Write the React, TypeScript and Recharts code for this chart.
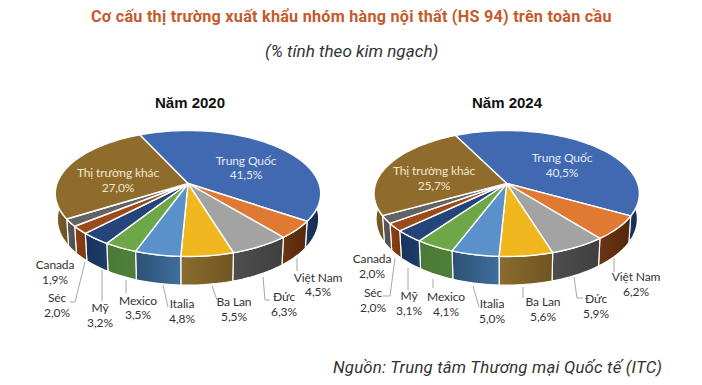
import React from "react";
import { PieChart, Pie } from "recharts";

const CATEGORIES = ["Trung Quốc", "Việt Nam", "Đức", "Ba Lan", "Italia", "Mexico", "Mỹ", "Séc", "Canada", "Thị trường khác"];
const VALUES_2020 = [41.5, 4.5, 6.3, 5.5, 4.8, 3.5, 3.2, 2.0, 1.9, 27.0];
const VALUES_2024 = [40.5, 6.2, 5.9, 5.6, 5.0, 4.1, 3.1, 2.0, 2.0, 25.7];
const TOP_COLORS = ["#4069B1", "#E07A33", "#A3A3A3", "#F1B71E", "#5A91CB", "#6EA747", "#254479", "#9C4A17", "#636363", "#8F6C2B"];
const WALL_LEFT = ["#1B3763", "#6B3512", "#4E4E4E", "#8C6C2E", "#2C5174", "#4A7A36", "#17335C", "#8A4116", "#5A5A5A", "#7C5E26"];
const WALL_RIGHT = ["#16294D", "#54280C", "#3F3F3F", "#6F5522", "#3F6E9E", "#4F8039", "#1F3D6B", "#7A3710", "#4E4E4E", "#6B5120"];

// label layout: [x, y of line 1, y of line 2]
const LABELS_2020 = [[246, 165, 179], [318, 282, 296], [284, 301, 316], [234, 306, 321], [182, 308, 323], [138, 305, 319], [100, 312, 327], [57, 302, 317], [55, 269, 284], [118, 177, 192]];
const LABELS_2024 = [[562, 162, 177], [636, 281, 296], [596, 303, 318], [543, 306, 321], [492, 308, 323], [446, 301, 316], [409, 300, 315], [373, 297, 312], [372, 263, 278], [434, 175, 190]];
const LINES_2020: number[][][] = [[], [[297, 258], [297, 271]], [[263, 277], [265, 300], [270, 300]], [[212, 286], [217, 300]], [[163, 285], [168, 307]], [[126, 280], [126, 293]], [[102, 270], [102, 301]], [[85, 262], [75, 302], [70, 302]], [], []];
const LINES_2024: number[][][] = [[], [[614, 258], [614, 272]], [[574, 277], [577, 298], [583, 298]], [[523, 287], [523, 298]], [[473, 286], [479, 307]], [[433, 279], [433, 288]], [[408, 268], [408, 290]], [[395, 258], [390, 296], [383, 296]], [], []];

const RY = 61.4;
const K = 0.159;
const DEPTH = 25;
const SHRINK = 0.985;
const RAD = Math.PI / 180;

function project(cx: number, cy: number, r: number, angle: number, lower = false) {
  const xn = Math.cos(angle * RAD);
  const yn = -Math.sin(angle * RAD);
  const w = 1 - K * yn;
  const s = lower ? SHRINK : 1;
  return [cx + (r * xn * s) / w, cy + (RY * yn * s) / w + (lower ? DEPTH / w : 0)];
}

function arcAngles(start: number, end: number) {
  const n = Math.max(2, Math.ceil(Math.abs(end - start) / 2));
  return Array.from({ length: n + 1 }, (_, i) => start + ((end - start) * i) / n);
}

const toPath = (pts: number[][]) => pts.map((p, i) => `${i ? "L" : "M"}${p[0].toFixed(2)} ${p[1].toFixed(2)}`).join(" ");

function TopFace(props: any) {
  const { cx, cy, outerRadius, startAngle, endAngle, fill } = props;
  const pts = arcAngles(startAngle, endAngle).map((a) => project(cx, cy, outerRadius, a));
  return <path d={`M${cx} ${cy} ${toPath(pts).replace("M", "L")} Z`} fill={fill} stroke="#fff" strokeWidth={1.4} strokeLinejoin="round" />;
}

function wallShape(prefix: string) {
  return function Wall(props: any) {
    const { cx, cy, outerRadius, startAngle, endAngle, index } = props;
    // keep only the part of the rim that faces the viewer (angles 180..360 in math convention)
    const lo = Math.min(startAngle, endAngle);
    const hi = Math.max(startAngle, endAngle);
    const parts: number[][] = [];
    for (const [a, b] of [[-190, 10], [170, 370], [-550, -350]]) {
      const s = Math.max(lo, a);
      const e = Math.min(hi, b);
      if (e > s) parts.push([s, e]);
    }
    const id = `${prefix}-wall-${index}`;
    return (
      <g>
        <defs>
          <linearGradient id={id} x1="0" y1="0" x2="1" y2="0">
            <stop offset="0%" stopColor={WALL_LEFT[index]} />
            <stop offset="100%" stopColor={WALL_RIGHT[index]} />
          </linearGradient>
        </defs>
        {parts.map(([s, e], i) => {
          const angles = arcAngles(s, e);
          const upper = angles.map((a) => project(cx, cy, outerRadius, a));
          const lower = angles.slice().reverse().map((a) => project(cx, cy, outerRadius, a, true));
          return <path key={i} d={`${toPath([...upper, ...lower])} Z`} fill={`url(#${id})`} stroke="#fff" strokeWidth={1.2} strokeLinejoin="round" />;
        })}
      </g>
    );
  };
}

const fmt = (v: number) => v.toFixed(1).replace(".", ",");

function labelRenderer(values: number[], layout: number[][]) {
  return function Label(props: any) {
    const i = props.index;
    const [x, y1, y2] = layout[i];
    const inner = i === 0 || i === 9;
    const fill = i === 0 ? "#E4EAF5" : inner ? "#EFE6D2" : "#333";
    return (
      <text textAnchor="middle" fontFamily="Lato, sans-serif" fontSize={12} letterSpacing={-0.1} fill={fill}>
        <tspan x={x} y={y1}>{CATEGORIES[i]}</tspan>
        <tspan x={x} y={y2}>{fmt(values[i])}%</tspan>
      </text>
    );
  };
}

function lineRenderer(lines: number[][][]) {
  return function Leader(props: any) {
    const pts = lines[props.index];
    if (!pts.length) return <g />;
    return <polyline points={pts.map((p) => p.join(",")).join(" ")} fill="none" stroke="#A6A6A6" strokeWidth={1} />;
  };
}

const rows = (values: number[]) => CATEGORIES.map((name, i) => ({ name, value: values[i], fill: TOP_COLORS[i] }));

const abs = (left: number, top: number, style: React.CSSProperties): React.CSSProperties => ({ position: "absolute", left, top, whiteSpace: "nowrap", ...style });

function Year(prefix: string, values: number[], cx: number, start: number, labels: number[][], lines: number[][][]) {
  const common = { data: rows(values), dataKey: "value", nameKey: "name", cx, cy: 183.5, outerRadius: 131, startAngle: start, endAngle: start - 360, isAnimationActive: false, paddingAngle: 0 };
  return [
    <Pie key={prefix + "w"} {...common} shape={wallShape(prefix)} label={false} labelLine={false} stroke="none" />,
    <Pie key={prefix + "t"} {...common} shape={TopFace} label={labelRenderer(values, labels)} labelLine={lineRenderer(lines)} stroke="none" />,
  ];
}

export default function App() {
  return (
    <div style={{ position: "absolute", left: 0, top: 0, width: 702, height: 385, background: "#fff", overflow: "hidden" }}>
      <div style={abs(91, 7, { fontFamily: "Roboto, sans-serif", fontWeight: 700, fontSize: 16.2, color: "#C55A2C", letterSpacing: 0.24 })}>
        Cơ cấu thị trường xuất khẩu nhóm hàng nội thất (HS 94) trên toàn cầu
      </div>
      <div style={abs(265, 41, { fontFamily: "Roboto, sans-serif", fontStyle: "italic", fontSize: 17.1, color: "#333" })}>(% tính theo kim ngạch)</div>
      <div style={abs(155, 94, { fontFamily: "'Liberation Sans', sans-serif", fontWeight: 700, fontSize: 15, color: "#111" })}>Năm 2020</div>
      <div style={abs(472, 94, { fontFamily: "'Liberation Sans', sans-serif", fontWeight: 700, fontSize: 15, color: "#111" })}>Năm 2024</div>
      <div style={abs(333, 357, { fontFamily: "Roboto, sans-serif", fontStyle: "italic", fontSize: 16.8, color: "#333", letterSpacing: 0.2 })}>Nguồn: Trung tâm Thương mại Quốc tế (ITC)</div>
      <div style={{ position: "absolute", left: 0, top: 0 }}>
        <PieChart width={702} height={385} margin={{ top: 0, right: 0, bottom: 0, left: 0 }}>
          {Year("a", VALUES_2020, 188, 115, LABELS_2020, LINES_2020)}
          {Year("b", VALUES_2024, 506.7, 116.5, LABELS_2024, LINES_2024)}
        </PieChart>
      </div>
    </div>
  );
}
